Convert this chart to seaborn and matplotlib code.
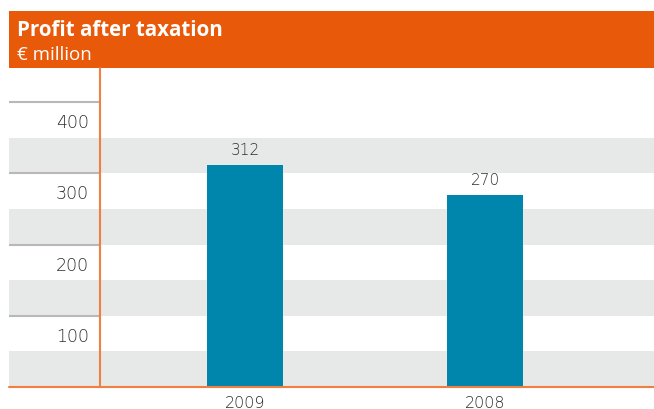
import matplotlib
matplotlib.use("Agg")
import matplotlib.pyplot as plt
import seaborn as sns
import pandas as pd
from matplotlib.patches import Rectangle

# Data
years = ["2009", "2008"]
profit = [312, 270]
tick_values = [100, 200, 300, 400]
tick_labels = ["100", "200", "300", "400"]

title = "Profit after taxation"
subtitle = "€ million"

ORANGE = "#E85A0A"
AXIS_ORANGE = "#EF8040"
BAR_BLUE = "#0085AD"
BAND_GREY = "#E7E8E8"
LINE_GREY = "#B8B8B8"
TEXT = "#2E2E2E"

sns.set_theme(style="white")
plt.rcParams["font.family"] = ["Open Sans", "DejaVu Sans"]
NUM_FONT = ["DejaVu Sans"]

W, H = 654, 410
fig = plt.figure(figsize=(W / 100, H / 100), dpi=100)

def frac_box(x0, y_top, x1, y_bot):
    return [x0 / W, 1 - y_bot / H, (x1 - x0) / W, (y_bot - y_top) / H]

YMAX = 448

ax = fig.add_axes(frac_box(100, 69, 654, 388))
lab = fig.add_axes(frac_box(9, 69, 100, 388), sharey=ax)

df = pd.DataFrame({"year": years, "profit": profit})

# shaded bands between every other half-step
for a in (ax, lab):
    for v in tick_values:
        a.axhspan(v - 100, v - 50, color=BAND_GREY, lw=0, zorder=0)
    for s in a.spines.values():
        s.set_visible(False)
    a.set_facecolor("none")

sns.barplot(data=df, x="year", y="profit", color=BAR_BLUE, width=0.317,
            saturation=1, linewidth=0, ax=ax, zorder=2)
ax.set_xlim(-0.604, 1.704)
ax.set_ylim(0, YMAX)
ax.set_xlabel("")
ax.set_ylabel("")
ax.set_yticks([])
ax.tick_params(axis="x", length=0, pad=6, labelsize=11.5, labelcolor=TEXT)
for lbl in ax.get_xticklabels():
    lbl.set_fontfamily(NUM_FONT)
    lbl.set_fontweight("light")

for i, v in enumerate(profit):
    ax.text(i, v + 11, str(v), ha="center", va="bottom", fontsize=11,
            color=TEXT, fontweight="light", family=NUM_FONT)

# left label column
lab.set_xlim(0, 1)
lab.set_xticks([])
lab.tick_params(axis="y", left=False, labelleft=False)
for v, t in zip(tick_values, tick_labels):
    lab.axhline(v, color=LINE_GREY, lw=1.5, zorder=1)
    lab.text(80 / 91, v - 28, t, ha="right", va="center", fontsize=12.5,
             color=TEXT, fontweight="light", family=NUM_FONT)

# orange axis lines
fig.add_artist(plt.Line2D([100 / W, 100 / W], [1 - 388 / H, 1 - 69 / H],
                          color=AXIS_ORANGE, lw=1.5, zorder=5))
fig.add_artist(plt.Line2D([9 / W, 1], [1 - 388 / H, 1 - 388 / H],
                          color=AXIS_ORANGE, lw=1.5, zorder=5))

# header bar
fig.add_artist(Rectangle((9 / W, 1 - 69 / H), (W - 9) / W, 57 / H,
                         transform=fig.transFigure, color=ORANGE, lw=0))
fig.text(17 / W, 1 - 30 / H, title, color="white", fontsize=14.8,
         fontweight="bold", va="center", ha="left")
fig.text(17 / W, 1 - 54.5 / H, subtitle, color="white", fontsize=13.5,
         va="center", ha="left")

fig.savefig("out.png", dpi=100)
